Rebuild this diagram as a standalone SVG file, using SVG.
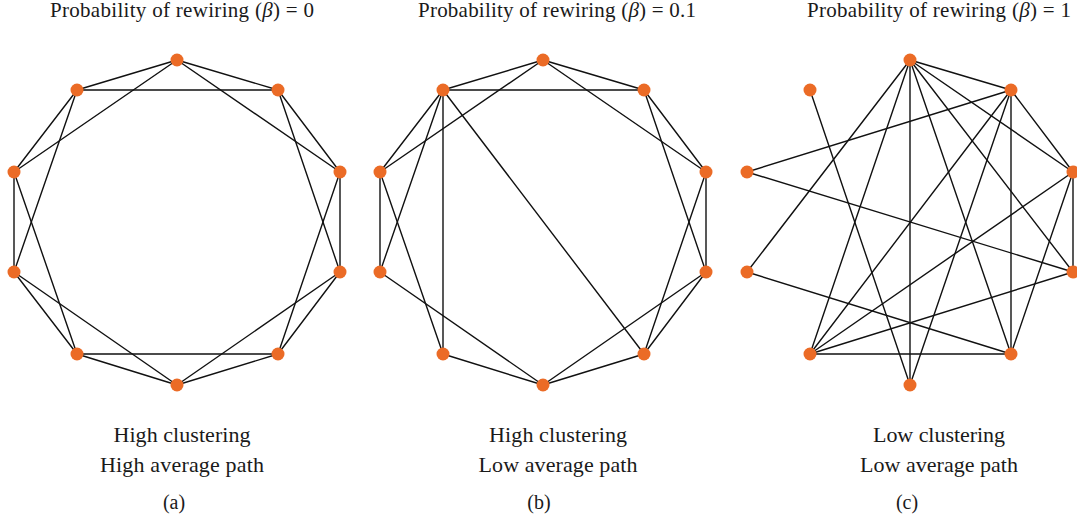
<svg xmlns="http://www.w3.org/2000/svg" width="1077" height="523" viewBox="0 0 1077 523">
<style>
.bg{fill:#ffffff}
.edge line{stroke:#111;stroke-width:1.4;stroke-linecap:round}
.node circle{fill:#EB6B26}
.title{font-family:"Liberation Serif","DejaVu Serif",serif;font-size:21px;fill:#1a1a1a;text-anchor:middle}
.label{font-family:"Liberation Serif","DejaVu Serif",serif;font-size:22px;fill:#1a1a1a;text-anchor:middle}
.cap{font-family:"Liberation Serif","DejaVu Serif",serif;font-size:20px;fill:#1a1a1a;text-anchor:middle}
</style>
<rect class="bg" x="0" y="0" width="1077" height="523"/>

<!-- Titles -->
<text class="title" x="182" y="17" textLength="264">Probability of rewiring (<tspan font-style="italic">β</tspan>) = 0</text>
<text class="title" x="557" y="17" textLength="278">Probability of rewiring (<tspan font-style="italic">β</tspan>) = 0.1</text>
<text class="title" x="939" y="17" textLength="264">Probability of rewiring (<tspan font-style="italic">β</tspan>) = 1</text>

<!-- Graph (a) -->
<g id="graph-a">
<g id="a-connectors" class="edge">
<line x1="177" y1="60" x2="278" y2="90"/>
<line x1="278" y1="90" x2="340" y2="172"/>
<line x1="340" y1="172" x2="340" y2="272"/>
<line x1="340" y1="272" x2="278" y2="354"/>
<line x1="278" y1="354" x2="177" y2="385"/>
<line x1="177" y1="385" x2="77" y2="354"/>
<line x1="77" y1="354" x2="14" y2="272"/>
<line x1="14" y1="272" x2="14" y2="172"/>
<line x1="14" y1="172" x2="77" y2="90"/>
<line x1="77" y1="90" x2="177" y2="60"/>
<line x1="177" y1="60" x2="340" y2="172"/>
<line x1="278" y1="90" x2="340" y2="272"/>
<line x1="340" y1="172" x2="278" y2="354"/>
<line x1="340" y1="272" x2="177" y2="385"/>
<line x1="278" y1="354" x2="77" y2="354"/>
<line x1="177" y1="385" x2="14" y2="272"/>
<line x1="77" y1="354" x2="14" y2="172"/>
<line x1="14" y1="272" x2="77" y2="90"/>
<line x1="14" y1="172" x2="177" y2="60"/>
<line x1="77" y1="90" x2="278" y2="90"/>
</g>
<g id="a-n0" class="node"><circle cx="177" cy="60" r="6.5"/></g>
<g id="a-n1" class="node"><circle cx="278" cy="90" r="6.5"/></g>
<g id="a-n2" class="node"><circle cx="340" cy="172" r="6.5"/></g>
<g id="a-n3" class="node"><circle cx="340" cy="272" r="6.5"/></g>
<g id="a-n4" class="node"><circle cx="278" cy="354" r="6.5"/></g>
<g id="a-n5" class="node"><circle cx="177" cy="385" r="6.5"/></g>
<g id="a-n6" class="node"><circle cx="77" cy="354" r="6.5"/></g>
<g id="a-n7" class="node"><circle cx="14" cy="272" r="6.5"/></g>
<g id="a-n8" class="node"><circle cx="14" cy="172" r="6.5"/></g>
<g id="a-n9" class="node"><circle cx="77" cy="90" r="6.5"/></g>
</g>

<!-- Graph (b) -->
<g id="graph-b" transform="translate(366,0)">
<g id="b-connectors" class="edge">
<line x1="177" y1="60" x2="278" y2="90"/>
<line x1="278" y1="90" x2="340" y2="172"/>
<line x1="340" y1="172" x2="340" y2="272"/>
<line x1="340" y1="272" x2="278" y2="354"/>
<line x1="278" y1="354" x2="177" y2="385"/>
<line x1="177" y1="385" x2="77" y2="354"/>
<line x1="14" y1="272" x2="14" y2="172"/>
<line x1="14" y1="172" x2="77" y2="90"/>
<line x1="77" y1="90" x2="177" y2="60"/>
<line x1="177" y1="60" x2="340" y2="172"/>
<line x1="278" y1="90" x2="340" y2="272"/>
<line x1="340" y1="172" x2="278" y2="354"/>
<line x1="340" y1="272" x2="177" y2="385"/>
<line x1="177" y1="385" x2="14" y2="272"/>
<line x1="77" y1="354" x2="14" y2="172"/>
<line x1="14" y1="272" x2="77" y2="90"/>
<line x1="14" y1="172" x2="177" y2="60"/>
<line x1="77" y1="90" x2="278" y2="90"/>
<line x1="77" y1="90" x2="77" y2="354"/>
<line x1="77" y1="90" x2="278" y2="354"/>
</g>
<g id="b-n0" class="node"><circle cx="177" cy="60" r="6.5"/></g>
<g id="b-n1" class="node"><circle cx="278" cy="90" r="6.5"/></g>
<g id="b-n2" class="node"><circle cx="340" cy="172" r="6.5"/></g>
<g id="b-n3" class="node"><circle cx="340" cy="272" r="6.5"/></g>
<g id="b-n4" class="node"><circle cx="278" cy="354" r="6.5"/></g>
<g id="b-n5" class="node"><circle cx="177" cy="385" r="6.5"/></g>
<g id="b-n6" class="node"><circle cx="77" cy="354" r="6.5"/></g>
<g id="b-n7" class="node"><circle cx="14" cy="272" r="6.5"/></g>
<g id="b-n8" class="node"><circle cx="14" cy="172" r="6.5"/></g>
<g id="b-n9" class="node"><circle cx="77" cy="90" r="6.5"/></g>
</g>

<!-- Graph (c) -->
<g id="graph-c" transform="translate(733,0)">
<g id="c-connectors" class="edge">
<line x1="177" y1="60" x2="278" y2="90"/>
<line x1="177" y1="60" x2="340" y2="172"/>
<line x1="177" y1="60" x2="340" y2="272"/>
<line x1="177" y1="60" x2="278" y2="354"/>
<line x1="177" y1="60" x2="177" y2="385"/>
<line x1="177" y1="60" x2="77" y2="354"/>
<line x1="177" y1="60" x2="14" y2="272"/>
<line x1="278" y1="90" x2="340" y2="172"/>
<line x1="278" y1="90" x2="278" y2="354"/>
<line x1="278" y1="90" x2="177" y2="385"/>
<line x1="278" y1="90" x2="77" y2="354"/>
<line x1="278" y1="90" x2="14" y2="172"/>
<line x1="340" y1="172" x2="340" y2="272"/>
<line x1="340" y1="172" x2="278" y2="354"/>
<line x1="340" y1="172" x2="77" y2="354"/>
<line x1="340" y1="272" x2="77" y2="354"/>
<line x1="340" y1="272" x2="14" y2="172"/>
<line x1="278" y1="354" x2="77" y2="354"/>
<line x1="278" y1="354" x2="14" y2="272"/>
<line x1="177" y1="385" x2="77" y2="90"/>
</g>
<g id="c-n0" class="node"><circle cx="177" cy="60" r="6.5"/></g>
<g id="c-n1" class="node"><circle cx="278" cy="90" r="6.5"/></g>
<g id="c-n2" class="node"><circle cx="340" cy="172" r="6.5"/></g>
<g id="c-n3" class="node"><circle cx="340" cy="272" r="6.5"/></g>
<g id="c-n4" class="node"><circle cx="278" cy="354" r="6.5"/></g>
<g id="c-n5" class="node"><circle cx="177" cy="385" r="6.5"/></g>
<g id="c-n6" class="node"><circle cx="77" cy="354" r="6.5"/></g>
<g id="c-n7" class="node"><circle cx="14" cy="272" r="6.5"/></g>
<g id="c-n8" class="node"><circle cx="14" cy="172" r="6.5"/></g>
<g id="c-n9" class="node"><circle cx="77" cy="90" r="6.5"/></g>
</g>

<!-- Bottom labels -->
<text class="label" x="182" y="442" textLength="137">High clustering</text>
<text class="label" x="182" y="472" textLength="164">High average path</text>
<text class="cap" x="174" y="509">(a)</text>

<text class="label" x="558" y="442" textLength="138">High clustering</text>
<text class="label" x="558" y="472" textLength="159">Low average path</text>
<text class="cap" x="539" y="509">(b)</text>

<text class="label" x="939" y="442" textLength="132">Low clustering</text>
<text class="label" x="939" y="472" textLength="158">Low average path</text>
<text class="cap" x="907" y="509">(c)</text>
</svg>
